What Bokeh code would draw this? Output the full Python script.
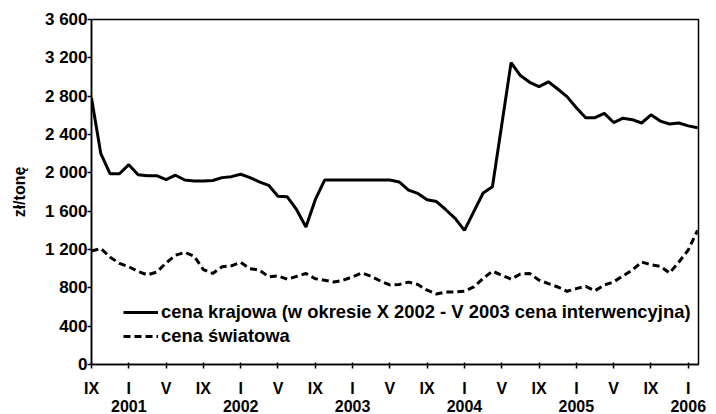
from bokeh.plotting import figure
from bokeh.models import FixedTicker, LinearAxis
from bokeh.embed import file_html
from bokeh.resources import INLINE

# ---- data (month index 0 = IX 2000) ----
months_krajowa = [0, 1, 2, 3, 4, 5, 6, 7, 8, 9, 10, 11, 12, 13, 14, 15, 16, 17, 18, 19,
                  20, 21, 22, 23, 24, 25, 26, 27, 28, 29, 30, 31, 32, 33, 34, 35, 36, 37,
                  38, 39, 40, 41, 42, 43, 45, 46, 47, 48, 49, 50, 51, 52, 53, 54, 55, 56,
                  57, 58, 59, 60, 61, 62, 63, 64, 65]
cena_krajowa = [2780, 2200, 1990, 1990, 2085, 1980, 1970, 1970, 1930, 1975, 1925, 1915,
                1915, 1920, 1950, 1960, 1985, 1950, 1905, 1870, 1755, 1750, 1615, 1435,
                1720, 1925, 1925, 1925, 1925, 1925, 1925, 1925, 1925, 1905, 1820, 1785,
                1720, 1700, 1615, 1525, 1400, 1595, 1790, 1855, 3150, 3015, 2945, 2900,
                2950, 2875, 2795, 2680, 2575, 2575, 2620, 2525, 2570, 2555, 2520, 2605,
                2540, 2510, 2520, 2490, 2470]

months_swiatowa = list(range(66))
cena_swiatowa = [1185, 1210, 1120, 1055, 1020, 970, 935, 965, 1060, 1140, 1170, 1130,
                 990, 950, 1020, 1030, 1065, 1000, 985, 915, 925, 890, 920, 950, 895,
                 880, 860, 880, 915, 955, 920, 870, 830, 835, 860, 835, 775, 735, 757,
                 757, 764, 810, 897, 974, 932, 890, 945, 949, 880, 844, 809, 764, 792,
                 815, 770, 830, 862, 925, 985, 1070, 1040, 1025, 955, 1070, 1195, 1400]

tick_months = [0, 4, 8, 12, 16, 20, 24, 28, 32, 36, 40, 44, 48, 52, 56, 60, 64]
month_names = ["IX", "I", "V"]
year_months = [4, 16, 28, 40, 52, 64]
year_labels = ["2001", "2002", "2003", "2004", "2005", "2006"]
y_ticks = [0, 400, 800, 1200, 1600, 2000, 2400, 2800, 3200, 3600]

label_krajowa = "cena krajowa (w okresie X 2002 - V 2003 cena interwencyjna)"
label_swiatowa = "cena światowa"

FONT = "Liberation Sans"

p = figure(width=716, height=414, x_range=(0, 65.1), y_range=(0, 3600),
           output_backend="svg", toolbar_location=None,
           min_border_left=91, min_border_right=18, min_border_top=19,
           min_border_bottom=30)
p.background_fill_color = "white"
p.border_fill_color = "white"
p.outline_line_color = "black"
p.outline_line_width = 1.5
p.xgrid.visible = False
p.ygrid.visible = False

p.line(months_krajowa, cena_krajowa, line_color="black", line_width=3,
       legend_label=label_krajowa)
p.line(months_swiatowa, cena_swiatowa, line_color="black", line_width=3,
       line_dash="7 4", legend_label=label_swiatowa)

# y axis
ya = p.yaxis[0]
ya.ticker = FixedTicker(ticks=y_ticks)
ya.major_label_overrides = {v: f"{v:,}".replace(",", " ") for v in y_ticks}
ya.minor_tick_line_color = None
ya.major_tick_in = 0
ya.major_tick_out = 4
ya.major_label_standoff = 0
ya.axis_line_width = 1.5
ya.major_tick_line_width = 1.5
ya.major_label_text_font = FONT
ya.major_label_text_font_style = "bold"
ya.major_label_text_font_size = "17px"
ya.major_label_text_color = "black"
ya.axis_label = "zł/tonę"
ya.axis_label_text_font = FONT
ya.axis_label_text_font_style = "bold"
ya.axis_label_text_font_size = "16px"
ya.axis_label_text_color = "black"
ya.axis_label_standoff = 14

# x axis: month names
xa = p.xaxis[0]
xa.ticker = FixedTicker(ticks=tick_months)
xa.major_label_overrides = {m: month_names[i % 3] for i, m in enumerate(tick_months)}
xa.minor_tick_line_color = None
xa.major_tick_in = 2
xa.major_tick_out = 4
xa.major_label_standoff = 11
xa.axis_line_width = 1.5
xa.major_tick_line_width = 1.5
xa.major_label_text_font = FONT
xa.major_label_text_font_style = "bold"
xa.major_label_text_font_size = "16px"
xa.major_label_text_color = "black"

# second row: years under every "I"
xa2 = LinearAxis(ticker=FixedTicker(ticks=year_months),
                 major_label_overrides={m: y for m, y in zip(year_months, year_labels)})
xa2.axis_line_color = None
xa2.major_tick_line_color = None
xa2.minor_tick_line_color = None
xa2.major_tick_in = 0
xa2.major_tick_out = 0
xa2.major_label_standoff = 0
xa2.major_label_text_font = FONT
xa2.major_label_text_font_style = "bold"
xa2.major_label_text_font_size = "16px"
xa2.major_label_text_color = "black"
p.add_layout(xa2, "below")

lg = p.legend[0]
lg.location = (32, 17)
lg.border_line_color = None
lg.background_fill_alpha = 0
lg.label_text_font = FONT
lg.label_text_font_style = "bold"
lg.label_text_font_size = "18.4px"
lg.label_text_color = "black"
lg.glyph_width = 35
lg.glyph_height = 20
lg.label_height = 20
lg.label_standoff = 3
lg.spacing = 2
lg.padding = 0
lg.margin = 0

open("out.html", "w").write(file_html(p, INLINE))
